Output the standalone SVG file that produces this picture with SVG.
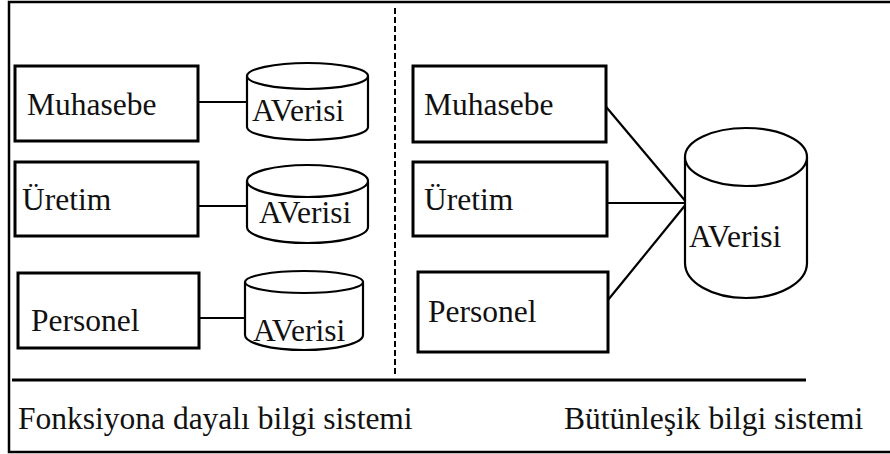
<svg xmlns="http://www.w3.org/2000/svg" width="890" height="454" viewBox="0 0 890 454">
<style>
.box{fill:#fff;stroke:#000;stroke-width:3}
.cyl{fill:#fff;stroke:#000;stroke-width:2.2;stroke-linejoin:round}
.t{font-family:'Liberation Serif','Tinos','Times New Roman','DejaVu Serif',serif;font-size:31.5px;fill:#111}
.c{stroke:#000;stroke-width:2.2;fill:none}
</style>
<rect x="0" y="0" width="890" height="454" fill="#fff"/>
<rect x="9" y="2" width="900" height="450" fill="none" stroke="#000" stroke-width="2.5"/>
<line x1="395" y1="8" x2="395" y2="376" stroke="#000" stroke-width="2" stroke-dasharray="6,3"/>
<line x1="12" y1="380" x2="806" y2="380" stroke="#000" stroke-width="3"/>
<g id="connectors">
<line class="c" x1="198" y1="102" x2="247" y2="102"/>
<line class="c" x1="198" y1="206" x2="247" y2="206"/>
<line class="c" x1="199" y1="318" x2="245" y2="318"/>
<line class="c" x1="602" y1="102" x2="687" y2="203"/>
<line class="c" x1="607" y1="203" x2="687" y2="203"/>
<line class="c" x1="608" y1="300" x2="687" y2="203"/>
</g>
<g id="l-muhasebe"><rect class="box" x="15" y="66" width="183" height="75"/><text class="t" font-family="Liberation Serif, serif" x="27" y="115">Muhasebe</text></g>
<g id="l-uretim"><rect class="box" x="15" y="162" width="183" height="74"/><text class="t" x="22" y="210">Üretim</text></g>
<g id="l-personel"><rect class="box" x="18" y="273" width="181" height="75"/><text class="t" x="31" y="331">Personel</text></g>
<g id="l-db1">
<path class="cyl" d="M247,76 L247,127 A60.5,13 0 0 0 368,127 L368,76"/>
<ellipse class="cyl" cx="307.5" cy="76" rx="60.5" ry="13"/>
<text class="t" x="252" y="121">AVerisi</text>
</g>
<g id="l-db2">
<path class="cyl" d="M247,181 L247,227 A60.5,16 0 0 0 368,227 L368,181"/>
<ellipse class="cyl" cx="307.5" cy="181" rx="60.5" ry="16"/>
<text class="t" x="259" y="223">AVerisi</text>
</g>
<g id="l-db3">
<path class="cyl" d="M245,282 L245,335 A59,15 0 0 0 363,335 L363,282"/>
<ellipse class="cyl" cx="304" cy="282" rx="59" ry="11"/>
<text class="t" x="253" y="341">AVerisi</text>
</g>
<g id="r-muhasebe"><rect class="box" x="413" y="66" width="193" height="76"/><text class="t" x="424" y="115">Muhasebe</text></g>
<g id="r-uretim"><rect class="box" x="413" y="162" width="194" height="74"/><text class="t" x="424" y="210">Üretim</text></g>
<g id="r-personel"><rect class="box" x="418" y="272" width="190" height="80"/><text class="t" x="428" y="322">Personel</text></g>
<g id="r-db">
<path class="cyl" d="M685,157 L685,263 A61,35 0 0 0 807,263 L807,157"/>
<ellipse class="cyl" cx="746" cy="157" rx="61" ry="29"/>
<text class="t" x="689" y="247">AVerisi</text>
</g>
<text class="t" x="18" y="429">Fonksiyona dayalı bilgi sistemi</text>
<text class="t" x="564" y="429">Bütünleşik bilgi sistemi</text>
</svg>
